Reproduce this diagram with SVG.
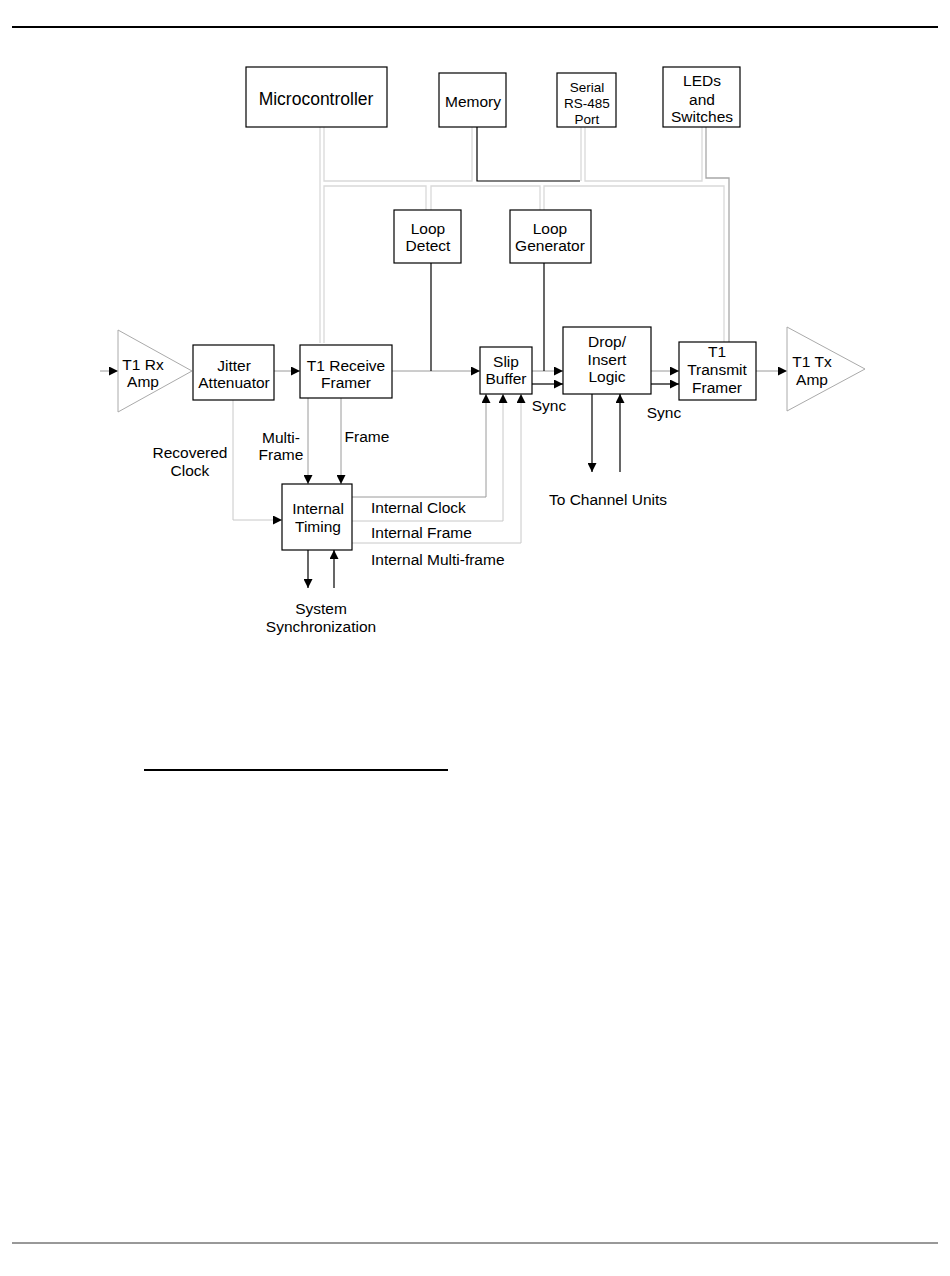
<svg xmlns="http://www.w3.org/2000/svg" width="950" height="1276" viewBox="0 0 950 1276">
<defs>
<style>
.box{fill:#fff;stroke:#000;stroke-width:1.2}
.amp{fill:#fff;stroke:#aaa;stroke-width:1}
.t{font-family:"Liberation Sans",Arial,sans-serif;font-size:15.5px;fill:#000;text-anchor:middle}
.tl{font-family:"Liberation Sans",Arial,sans-serif;font-size:15.5px;fill:#000;text-anchor:start}
.bus{fill:none;stroke:#d9d9d9;stroke-width:1.3}
.busd{fill:none;stroke:#a8a8a8;stroke-width:1.3}
.blk{fill:none;stroke:#000;stroke-width:1.2}
.gry{fill:none;stroke:#9a9a9a;stroke-width:1}
.lgr{fill:none;stroke:#c8c8c8;stroke-width:1}
</style>
<marker id="ah" viewBox="0 0 10 10" refX="10" refY="5" markerWidth="9" markerHeight="9" markerUnits="userSpaceOnUse" orient="auto">
<path d="M0,0 L10,5 L0,10 Z" fill="#000"/>
</marker>
</defs>
<rect width="950" height="1276" fill="#fff"/>
<g id="page-rules">
<line x1="12" y1="27" x2="938" y2="27" stroke="#000" stroke-width="2"/>
<line x1="144" y1="770" x2="448" y2="770" stroke="#000" stroke-width="2"/>
<line x1="12" y1="1243" x2="938" y2="1243" stroke="#333" stroke-width="1"/>
</g>
<g id="connectors">
<path class="bus" d="M320,127 V343"/>
<path class="bus" d="M324,127 V181 H472 V127"/>
<path class="bus" d="M324,343 V186 H426 V210"/>
<path class="bus" d="M431,210 V186 H540 V210"/>
<path class="bus" d="M544,210 V186 H724 V343"/>
<path class="bus" d="M581,127 V181"/>
<path class="bus" d="M585,127 V181 H702 V127"/>
<path class="busd" d="M706,127 V178 H729 V343"/>
<path class="blk" d="M477,127 V181 H580"/>
<path class="gry" d="M100,371 H118" marker-end="url(#ah)"/>
<path class="gry" d="M274,371 H300" marker-end="url(#ah)"/>
<path class="gry" d="M392,371 H480" marker-end="url(#ah)"/>
<path class="blk" d="M431,263 V371"/>
<path class="gry" d="M532,371 H563" marker-end="url(#ah)"/>
<path class="blk" d="M544,263 V371"/>
<path class="blk" d="M532,384 H563" marker-end="url(#ah)"/>
<path class="gry" d="M651,371 H679" marker-end="url(#ah)"/>
<path class="blk" d="M651,384 H679" marker-end="url(#ah)"/>
<path class="gry" d="M756,371 H787" marker-end="url(#ah)"/>
<path class="blk" d="M592,394 V472" marker-end="url(#ah)"/>
<path class="blk" d="M620,472 V394" marker-end="url(#ah)"/>
<path class="gry" d="M308,398 V484" marker-end="url(#ah)"/>
<path class="gry" d="M341,398 V484" marker-end="url(#ah)"/>
<path class="lgr" d="M233,400 V520 H282" marker-end="url(#ah)"/>
<path class="gry" d="M352,497 H486 V394" marker-end="url(#ah)"/>
<path class="lgr" d="M352,521 H503 V394" marker-end="url(#ah)"/>
<path class="lgr" d="M352,543 H521 V394" marker-end="url(#ah)"/>
<path class="blk" d="M308,550 V588" marker-end="url(#ah)"/>
<path class="blk" d="M334,588 V550" marker-end="url(#ah)"/>
</g>
<g id="microcontroller">
<rect class="box" x="246" y="67" width="141" height="60"/>
<text class="t" x="316" y="105" style="font-size:17.5px">Microcontroller</text>
</g>
<g id="memory">
<rect class="box" x="439" y="73" width="67" height="54"/>
<text class="t" x="473" y="107">Memory</text>
</g>
<g id="serial-port">
<rect class="box" x="557" y="73" width="59" height="54"/>
<text class="t" x="587" y="92" style="font-size:13.5px">Serial</text>
<text class="t" x="587" y="108" style="font-size:13.5px">RS-485</text>
<text class="t" x="587" y="124" style="font-size:13.5px">Port</text>
</g>
<g id="leds-switches">
<rect class="box" x="663" y="67" width="77" height="60"/>
<text class="t" x="702" y="86">LEDs</text>
<text class="t" x="702" y="105">and</text>
<text class="t" x="702" y="122">Switches</text>
</g>
<g id="loop-detect">
<rect class="box" x="394" y="210" width="67" height="53"/>
<text class="t" x="428" y="234">Loop</text>
<text class="t" x="428" y="251">Detect</text>
</g>
<g id="loop-generator">
<rect class="box" x="510" y="210" width="81" height="53"/>
<text class="t" x="550" y="234">Loop</text>
<text class="t" x="550" y="251">Generator</text>
</g>
<g id="t1-rx-amp">
<polygon class="amp" points="118,330 118,412 192,371"/>
<text class="t" x="143" y="370">T1 Rx</text>
<text class="t" x="143" y="387">Amp</text>
</g>
<g id="jitter-attenuator">
<rect class="box" x="193" y="345" width="81" height="55"/>
<text class="t" x="234" y="371">Jitter</text>
<text class="t" x="234" y="388">Attenuator</text>
</g>
<g id="t1-receive-framer">
<rect class="box" x="300" y="345" width="92" height="53"/>
<text class="t" x="346" y="371">T1 Receive</text>
<text class="t" x="346" y="388">Framer</text>
</g>
<g id="slip-buffer">
<rect class="box" x="480" y="347" width="52" height="47"/>
<text class="t" x="506" y="367">Slip</text>
<text class="t" x="506" y="384">Buffer</text>
</g>
<g id="drop-insert-logic">
<rect class="box" x="563" y="327" width="88" height="67"/>
<text class="t" x="607" y="347">Drop/</text>
<text class="t" x="607" y="365">Insert</text>
<text class="t" x="607" y="382">Logic</text>
</g>
<g id="t1-transmit-framer">
<rect class="box" x="679" y="342" width="77" height="58"/>
<text class="t" x="717" y="357">T1</text>
<text class="t" x="717" y="375">Transmit</text>
<text class="t" x="717" y="393">Framer</text>
</g>
<g id="t1-tx-amp">
<polygon class="amp" points="787,327 787,411 865,369"/>
<text class="t" x="812" y="367">T1 Tx</text>
<text class="t" x="812" y="385">Amp</text>
</g>
<g id="internal-timing">
<rect class="box" x="282" y="484" width="70" height="66"/>
<text class="t" x="318" y="514">Internal</text>
<text class="t" x="318" y="532">Timing</text>
</g>
<g id="labels">
<text class="t" x="549" y="411">Sync</text>
<text class="t" x="664" y="418">Sync</text>
<text class="t" x="608" y="505">To Channel Units</text>
<text class="t" x="281" y="443">Multi-</text>
<text class="t" x="281" y="460">Frame</text>
<text class="t" x="367" y="442">Frame</text>
<text class="t" x="190" y="458">Recovered</text>
<text class="t" x="190" y="476">Clock</text>
<text class="tl" x="371" y="513">Internal Clock</text>
<text class="tl" x="371" y="538">Internal Frame</text>
<text class="tl" x="371" y="565">Internal Multi-frame</text>
<text class="t" x="321" y="614">System</text>
<text class="t" x="321" y="632">Synchronization</text>
</g>
</svg>
